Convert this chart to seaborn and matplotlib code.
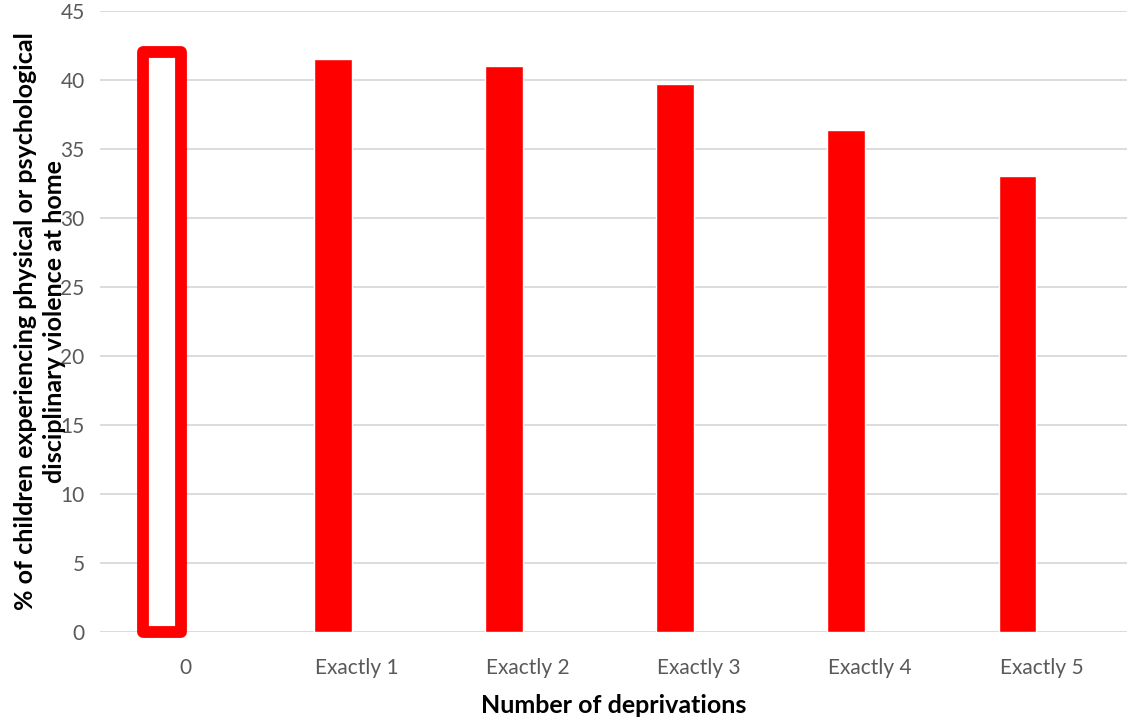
import pandas as pd
import matplotlib
matplotlib.use("Agg")
import matplotlib.pyplot as plt
import seaborn as sns

# --- data ---
categories = ["0", "Exactly 1", "Exactly 2", "Exactly 3", "Exactly 4", "Exactly 5"]
values = [42.0, 41.5, 41.05, 39.7, 36.35, 33.05]
y_ticks = [0, 5, 10, 15, 20, 25, 30, 35, 40, 45]

ylabel = "% of children experiencing physical or psychological\ndisciplinary violence at home"
xlabel = "Number of deprivations"

RED = "#FF0000"
GRID = "#D9D9D9"
TICK = "#595959"

sns.set_theme(style="white")
plt.rcParams["font.family"] = ["Lato", "DejaVu Sans"]

# second (empty) series so the bar sits on the left of each category, like Excel
df = pd.DataFrame({
    "Categoria": categories * 2,
    "Valor": values + [float("nan")] * len(values),
    "Serie": ["a"] * len(values) + ["b"] * len(values),
})

fig = plt.figure(figsize=(11.27, 7.17), dpi=100)
ax = fig.add_axes([100 / 1127, 85 / 717, 1027 / 1127, 621 / 717])

sns.barplot(data=df, x="Categoria", y="Valor", hue="Serie", hue_order=["a", "b"],
            order=categories, palette=[RED, RED], width=0.56, gap=0.21,
            dodge=True, legend=False, errorbar=None, saturation=1, ax=ax)

# first bar drawn as a hollow outline
first = ax.patches[0]
first.set_facecolor("white")
first.set_edgecolor(RED)
first.set_linewidth(8.5)
first.set_joinstyle("round")
first.set_clip_on(False)
first.set_zorder(3)

ax.set_xlim(-0.5, len(categories) - 0.5)
ax.set_ylim(0, 45)
ax.set_yticks(y_ticks)
ax.yaxis.grid(True, color=GRID, linewidth=1.3)
ax.set_axisbelow(True)
for s in ax.spines.values():
    s.set_visible(False)

ax.tick_params(axis="both", length=0, labelsize=15, labelcolor=TICK)
ax.tick_params(axis="y", pad=11)
ax.tick_params(axis="x", pad=19)

ax.set_xlabel(xlabel, fontsize=18, fontweight="bold", color="black", labelpad=11)
ax.set_ylabel(ylabel, fontsize=18, fontweight="bold", color="black", linespacing=1.3)
ax.yaxis.set_label_coords(-0.033, 0.5)

plt.savefig("out.png", dpi=100)
plt.close()
